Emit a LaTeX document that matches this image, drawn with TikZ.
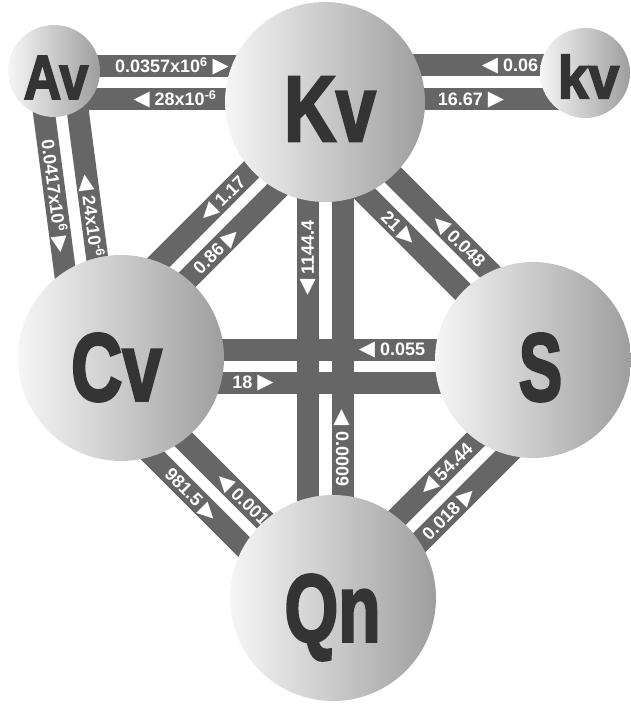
\documentclass[tikz,border=0pt]{standalone}
\usepackage{fontspec}
\setmainfont{Liberation Sans}
\newfontfamily\symfont{DejaVu Sans}
\newfontfamily\bigfont{Liberation Sans}[UprightFeatures={FakeBold=3}, BoldFeatures={FakeBold=3}]
\usepackage{tikz}
\usetikzlibrary{calc}
\usetikzlibrary{backgrounds}
\definecolor{bargray}{RGB}{102,102,102}
\definecolor{ballL}{RGB}{246,246,246}
\definecolor{ballR}{RGB}{158,158,158}
\definecolor{lettergray}{RGB}{52,52,52}
\newcommand{\rtri}{\hspace{5pt}{\symfont\fontsize{21}{21}\selectfont ▶}}
\newcommand{\ltri}{{\symfont\fontsize{21}{21}\selectfont ◀}\hspace{5pt}}
\tikzset{
 ball/.style={circle, inner sep=0, left color=ballL, right color=ballR},
 bigtxt/.style={text=lettergray, font=\bigfont\bfseries\fontsize{#1}{#1}\selectfont, inner sep=0, text depth=0pt},
 bar/.style={draw=bargray, line width=22pt},
 lbl/.style={text=white, font=\bfseries\fontsize{18}{18}\selectfont, inner sep=0, text height=12.9pt, text depth=0pt}
}

\begin{document}
\begin{tikzpicture}[x=1pt, y=-1pt]
\useasboundingbox (0,0) rectangle (630,706);
\node[ball, minimum size=92pt] (Av) at (54,71) {};
\node[ball, minimum size=200pt] (Kv) at (325,102) {};
\node[ball, minimum size=90pt] (kv) at (585,73) {};
\node[ball, minimum size=206pt] (Cv) at (121,358) {};
\node[ball, minimum size=196pt] (S) at (533,360) {};
\node[ball, minimum size=206pt] (Qn) at (333,598) {};
\begin{scope}[on background layer]
\draw[bar] ([shift={(0,-5)}]Av.center) -- ([shift={(0,-36)}]Kv.center);
\draw[bar] ([shift={(0,28)}]Av.center) -- ([shift={(0,-3)}]Kv.center);
\draw[bar] ([shift={(0,-37)}]Kv.center) -- ([shift={(0,-8)}]kv.center);
\draw[bar] ([shift={(0,-3)}]Kv.center) -- ([shift={(0,26)}]kv.center);
\draw[bar] ([shift={(-15,4)}]Av.center) -- ([shift={(-47,-18)}]Cv.center);
\draw[bar] ([shift={(19,4)}]Av.center) -- ([shift={(-13,-18)}]Cv.center);
\draw[bar] ([shift={(-3,-3)}]Kv.center) -- ([shift={(-29,-29)}]Cv.center);
\draw[bar] ([shift={(20,20)}]Kv.center) -- ([shift={(-6,-6)}]Cv.center);
\draw[bar] ([shift={(-26,26)}]Kv.center) -- ([shift={(-1,1)}]S.center);
\draw[bar] ([shift={(-2.5,2.5)}]Kv.center) -- ([shift={(22.5,-22.5)}]S.center);
\draw[bar] ([shift={(-17.5,0)}]Kv.center) -- ([shift={(-25.5,0)}]Qn.center);
\draw[bar] ([shift={(17.5,0)}]Kv.center) -- ([shift={(9.5,0)}]Qn.center);
\draw[bar] ([shift={(0,-8.5)}]Cv.center) -- ([shift={(0,-10.5)}]S.center);
\draw[bar] ([shift={(0,24.5)}]Cv.center) -- ([shift={(0,22.5)}]S.center);
\draw[bar] ([shift={(-33,33)}]Cv.center) -- ([shift={(-19,19)}]Qn.center);
\draw[bar] ([shift={(-9.5,9.5)}]Cv.center) -- ([shift={(4.5,-4.5)}]Qn.center);
\draw[bar] ([shift={(-8,-8)}]Qn.center) -- ([shift={(11,11)}]S.center);
\draw[bar] ([shift={(15.5,15.5)}]Qn.center) -- ([shift={(34.5,34.5)}]S.center);
\node[lbl] (AvKv) at (172,66) {0.0357x10\textsuperscript{6}\rtri};
\node[lbl] (KvAv) at (175,99) {\ltri 28x10\textsuperscript{-6}};
\node[lbl] (kvKv) at (510,65) {\ltri 0.06};
\node[lbl] (Kvkv) at (471,99) {16.67\rtri};
\node[lbl, rotate=-82.6] (AvCv) at (55,196) {0.0417x10\textsuperscript{6}\rtri};
\node[lbl, rotate=-82.6] (CvAv) at (91.5,216) {\ltri 24x10\textsuperscript{-6}};
\node[lbl, rotate=45] (KvCv) at (222.5,198.5) {\ltri 1.17};
\node[lbl, rotate=45] (CvKv) at (216,251) {0.86\rtri};
\node[lbl, rotate=-45] (KvS) at (399,228) {21\rtri};
\node[lbl, rotate=-45] (SKv) at (459,241) {\ltri 0.048};
\node[lbl, rotate=90] (KvQn) at (307.5,258) {\ltri 1144.4};
\node[lbl, rotate=-90] (QnKv) at (342.5,448) {\ltri 0.0009};
\node[lbl] (SCv) at (392,349.5) {\ltri 0.055};
\node[lbl] (CvS) at (253,382.5) {18\rtri};
\node[lbl, rotate=-45] (CvQn) at (191.5,494.5) {981.5\rtri};
\node[lbl, rotate=-45] (QnCv) at (243,499) {\ltri 0.001};
\node[lbl, rotate=45] (SQn) at (446,469) {\ltri 54.44};
\node[lbl, rotate=45] (QnS) at (448.5,513.5) {0.018\rtri};
\end{scope}
\node[bigtxt=62] (Av-t) at ([shift={(2,6.5)}]Av.center) {\scalebox{0.84}[1]{Av}};
\node[bigtxt=93] (Kv-t) at ([shift={(5,7)}]Kv.center) {\scalebox{0.77}[1]{Kv}};
\node[bigtxt=60] (kv-t) at ([shift={(3.5,3.5)}]kv.center) {\scalebox{0.92}[1]{kv}};
\node[bigtxt=96] (Cv-t) at ([shift={(-4.5,9)}]Cv.center) {\scalebox{0.74}[1]{Cv}};
\node[bigtxt=96] (S-t) at ([shift={(7.5,7)}]S.center) {\scalebox{0.68}[1]{S}};
\node[bigtxt=96] (Qn-t) at ([shift={(-0.5,10)}]Qn.center) {\scalebox{0.72}[1]{Qn}};
\end{tikzpicture}
\end{document}
